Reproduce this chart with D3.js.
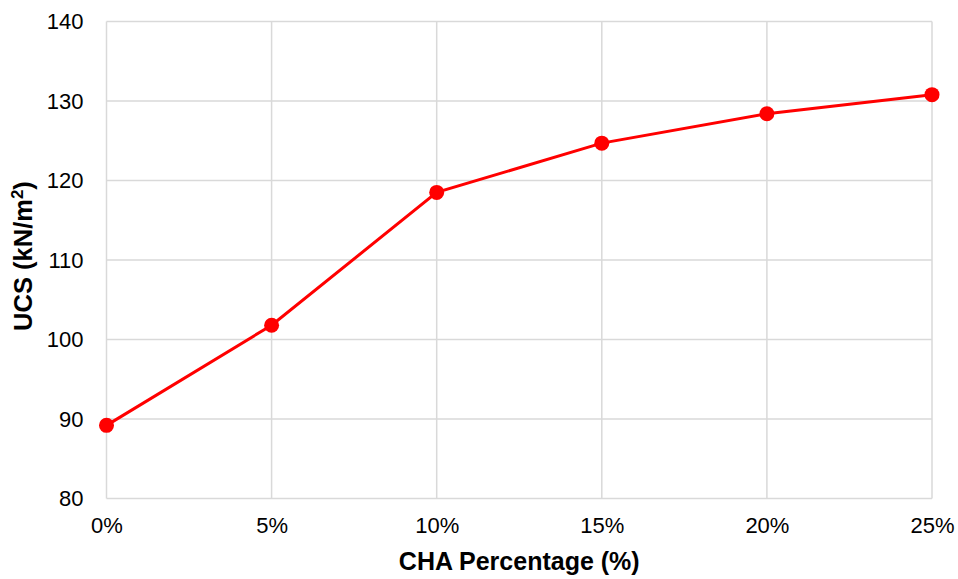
<!DOCTYPE html>
<html>
<head>
<meta charset="utf-8">
<script src="https://cdn.jsdelivr.net/npm/d3@7"></script>
<style>
  html, body { margin: 0; padding: 0; background: #fff; }
  svg { display: block; font-family: "Liberation Sans", Arial, sans-serif; }
</style>
</head>
<body>
<svg id="chart" width="958" height="579"></svg>
<script>
// CHA content (%) and unconfined compressive strength (kN/m²)
const chaPercent = [0, 5, 10, 15, 20, 25];
const ucsValues = [89.2, 101.8, 118.5, 124.7, 128.4, 130.8];
const yTicks = [80, 90, 100, 110, 120, 130, 140];
const xTicks = [0, 5, 10, 15, 20, 25];

const svg = d3.select("#chart");
const margin = { left: 106.5, right: 26, top: 21.5, bottom: 80.5 };
const W = 958, H = 579;

const x = d3.scaleLinear().domain([0, 25]).range([margin.left, W - margin.right]);
const y = d3.scaleLinear().domain([80, 140]).range([H - margin.bottom, margin.top]);

const grid = svg.append("g");
grid.selectAll("line.h").data(yTicks).join("line")
  .attr("x1", x(0)).attr("x2", x(25))
  .attr("y1", d => y(d)).attr("y2", d => y(d))
  .attr("stroke", "#d9d9d9").attr("stroke-width", 1.5);
grid.selectAll("line.v").data(xTicks).join("line")
  .attr("y1", y(80)).attr("y2", y(140))
  .attr("x1", d => x(d)).attr("x2", d => x(d))
  .attr("stroke", "#d9d9d9").attr("stroke-width", 1.5);

// Axes (labels only; grid supplies the lines)
const yAxis = svg.append("g").attr("transform", `translate(${x(0)},0)`)
  .call(d3.axisLeft(y).tickValues(yTicks).tickSize(0).tickPadding(23));
const xAxis = svg.append("g").attr("transform", `translate(0,${y(80)})`)
  .call(d3.axisBottom(x).tickValues(xTicks).tickSize(0).tickPadding(19).tickFormat(d => d + "%"));
[yAxis, xAxis].forEach(a => {
  a.select(".domain").remove();
  a.selectAll("text").attr("font-size", 22).attr("fill", "#000")
    .attr("font-family", "'Liberation Sans', Arial, sans-serif");
});

// Line and markers
const pts = chaPercent.map((c, i) => [c, ucsValues[i]]);
svg.append("path").datum(pts)
  .attr("fill", "none").attr("stroke", "#ff0000").attr("stroke-width", 3)
  .attr("d", d3.line().x(d => x(d[0])).y(d => y(d[1])));
svg.selectAll("circle.pt").data(pts).join("circle")
  .attr("cx", d => x(d[0])).attr("cy", d => y(d[1])).attr("r", 7.5)
  .attr("fill", "#ff0000");

// Axis titles
svg.append("text")
  .attr("x", x(12.5)).attr("y", 570)
  .attr("text-anchor", "middle").attr("font-size", 25).attr("font-weight", "bold")
  .text("CHA Percentage (%)");
const yTitle = svg.append("text")
  .attr("transform", `translate(32,${y(110) - 4}) rotate(-90)`)
  .attr("text-anchor", "middle").attr("font-size", 25.5).attr("font-weight", "bold");
yTitle.append("tspan").text("UCS (kN/m");
yTitle.append("tspan").attr("font-size", 17).attr("dy", -9).text("2");
yTitle.append("tspan").attr("dy", 9).text(")");
</script>
</body>
</html>
